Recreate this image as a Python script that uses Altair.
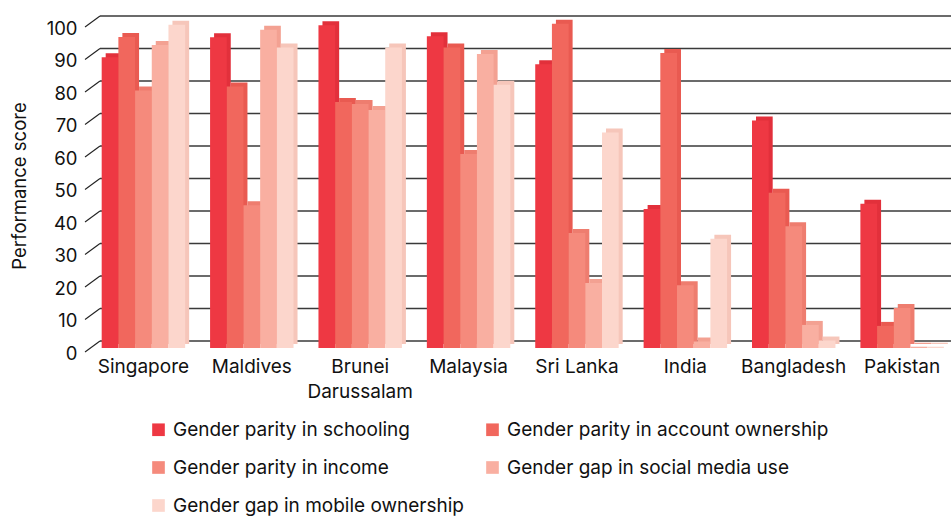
import altair as alt
import pandas as pd

countries = ["Singapore", "Maldives", "Brunei Darussalam", "Malaysia",
             "Sri Lanka", "India", "Bangladesh", "Pakistan"]
series = ["Gender parity in schooling", "Gender parity in account ownership",
          "Gender parity in income", "Gender gap in social media use",
          "Gender gap in mobile ownership"]

schooling = [89.5, 95.6, 99.3, 95.9, 87.3, 42.8, 70.0, 44.4]
account = [95.7, 80.5, 75.7, 92.5, 99.8, 90.8, 47.8, 6.8]
income = [79.2, 43.9, 75.1, 59.7, 35.4, 19.3, 37.5, 12.3]
social_media = [93.2, 97.9, 73.2, 90.5, 20.0, 2.0, 7.1, 0.4]
mobile = [99.5, 92.5, 92.5, 81.0, 66.3, 33.6, 2.3, 0.4]

front_colors = ["#EE3843", "#F1675D", "#F58A7C", "#F9AFA1", "#FCD6CC"]
depth_colors = ["#E2303B", "#E95A51", "#EE7D6F", "#F3A192", "#F6C6BA"]
y_ticks = list(range(0, 101, 10))

rows = []
for name, vals in zip(series, [schooling, account, income, social_media, mobile]):
    for country, v in zip(countries, vals):
        rows.append({"country": country, "series": name, "score": v})
df = pd.DataFrame(rows)
ticks_df = pd.DataFrame({"v": y_ticks})

W, H = 866, 325
FONT = "Inter"
DEPTH = 4
P_INNER, P_OUTER = 0.23, 0.11
STEP = W / (len(countries) - P_INNER + 2 * P_OUTER)
BAND = STEP * (1 - P_INNER)

y_scale = alt.Scale(domain=[0, 100], nice=False)
x_scale = alt.Scale(domain=countries, paddingInner=P_INNER, paddingOuter=P_OUTER, align=0.7)

y_axis = alt.Axis(values=y_ticks, domain=False, ticks=False, tickSize=0, grid=False,
                  labelFont=FONT, labelFontSize=18.5, labelColor="#111111",
                  labelPadding=8, labelOffset=5,
                  title="Performance score", titleFont=FONT, titleFontSize=18.5,
                  titleFontWeight="normal", titleColor="#111111", titlePadding=17)

x_enc = alt.X("country:N", sort=countries, scale=x_scale,
              axis=alt.Axis(title=None, domain=False, ticks=False, labelAngle=0,
                            labelFont=FONT, labelFontSize=19, labelColor="#111111",
                            labelPadding=9, labelLineHeight=25,
                            labelExpr="datum.value == 'Brunei Darussalam' ? ['Brunei', 'Darussalam'] : datum.label"))
y_enc = alt.Y("score:Q", scale=y_scale, axis=y_axis)

# back-wall gridlines
grid = alt.Chart(ticks_df).mark_rule(color="#3a3a3a", strokeWidth=1.7, yOffset=-7).encode(
    x=alt.value(15), x2=alt.value(W),
    y=alt.Y("v:Q", scale=y_scale, axis=y_axis),
)

# slanted ticks joining the front labels to the back wall
slants = alt.Chart(ticks_df).mark_rule(color="#222222", strokeWidth=1.1,
                                       yOffset=4, y2Offset=-7).encode(
    x=alt.value(0), x2=alt.value(15),
    y=alt.Y("v:Q", scale=y_scale, axis=y_axis),
    y2="v:Q",
)

# extruded top / side faces: the same columns pushed back and to the right
depth = alt.Chart(df).mark_bar(yOffset=-DEPTH).encode(
    x=x_enc,
    xOffset=alt.XOffset("series:N", sort=series,
                        scale=alt.Scale(domain=series, range=[DEPTH, BAND + DEPTH])),
    y=y_enc,
    color=alt.Color("series:N", sort=series,
                    scale=alt.Scale(domain=series, range=depth_colors), legend=None),
)

front = alt.Chart(df).mark_bar().encode(
    x=x_enc,
    xOffset=alt.XOffset("series:N", sort=series, scale=alt.Scale(domain=series)),
    y=y_enc,
    color=alt.Color("series:N", sort=series,
                    scale=alt.Scale(domain=series, range=front_colors),
                    legend=alt.Legend(title=None, orient="none", legendX=64, legendY=397,
                                      direction="horizontal",
                                      columns=2, columnPadding=18, rowPadding=18,
                                      symbolType="square", symbolSize=160, symbolStrokeWidth=0,
                                      labelFont=FONT, labelFontSize=19, labelColor="#111111",
                                      labelOffset=5, labelLimit=0)),
)

chart = alt.layer(grid, slants, depth, front).resolve_scale(
    color="independent", xOffset="independent"
).properties(
    width=W, height=H,
    autosize=alt.AutoSizeParams(type="none"),
    padding={"left": 85, "top": 23, "right": 0, "bottom": 171},
).configure_view(stroke=None)

chart.save("out.html", embed_options={"renderer": "svg", "actions": False})
